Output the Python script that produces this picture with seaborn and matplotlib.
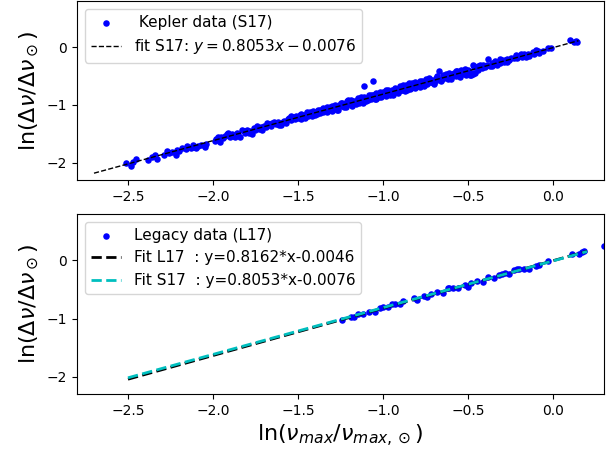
import matplotlib
matplotlib.use("Agg")
import matplotlib.pyplot as plt
import numpy as np
import pandas as pd
import seaborn as sns

# Kepler sample (S17): ln(numax/numax_sun), ln(dnu/dnu_sun)
kepler_x = [
    -2.51, -2.48, -2.47, -2.45, -2.38, -2.34, -2.33, -2.29, -2.27, -2.26,
    -2.22, -2.21, -2.18, -2.15, -2.13, -2.12, -2.10, -2.09, -2.07, -2.05,
    -2.04, -2.20, -2.16, -2.11, -2.36, -2.24,
    -1.99, -1.98, -1.97, -1.95, -1.94, -1.93, -1.92, -1.90, -1.89, -1.88,
    -1.86, -1.85, -1.84, -1.82, -1.81, -1.80, -1.78, -1.77, -1.75, -1.73,
    -1.72, -1.70, -1.69, -1.67, -1.66, -1.65, -1.63, -1.62, -1.61, -1.59,
    -1.58, -1.57, -1.55, -1.54, -1.53, -1.52, -1.51, -1.50, -1.76, -1.64,
    -1.56,
    -1.49, -1.48, -1.47, -1.46, -1.45, -1.44, -1.43, -1.42, -1.41, -1.40,
    -1.39, -1.38, -1.37, -1.36, -1.35, -1.34, -1.33, -1.32, -1.31, -1.30,
    -1.29, -1.28, -1.27, -1.26, -1.25, -1.24, -1.23, -1.22, -1.21, -1.20,
    -1.19, -1.18, -1.17, -1.16, -1.15, -1.14, -1.13, -1.12, -1.11, -1.10,
    -1.09, -1.08, -1.07, -1.06, -1.05, -1.04, -1.03, -1.02, -1.01, -1.00,
    -1.475, -1.445, -1.415, -1.385, -1.355, -1.325, -1.295, -1.265, -1.235,
    -1.205, -1.175, -1.145, -1.115, -1.085, -1.055, -1.025, -1.11, -1.06,
    -0.99, -0.98, -0.97, -0.96, -0.95, -0.94, -0.93, -0.92, -0.91, -0.90,
    -0.89, -0.88, -0.87, -0.86, -0.85, -0.84, -0.83, -0.82, -0.81, -0.80,
    -0.79, -0.78, -0.77, -0.76, -0.75, -0.74, -0.73, -0.72, -0.71, -0.70,
    -0.69, -0.68, -0.67, -0.66, -0.65, -0.64, -0.63, -0.62, -0.61, -0.60,
    -0.59, -0.58, -0.57, -0.56, -0.55, -0.54, -0.53, -0.52, -0.51, -0.50,
    -0.985, -0.955, -0.925, -0.895, -0.865, -0.835, -0.805, -0.775, -0.745,
    -0.715, -0.685, -0.655, -0.625, -0.595, -0.565, -0.535, -0.505,
    -0.49, -0.485, -0.48, -0.475, -0.47, -0.465, -0.46, -0.45, -0.44, -0.43,
    -0.42, -0.41, -0.40, -0.39, -0.38, -0.37, -0.36, -0.35, -0.34, -0.33,
    -0.32, -0.31, -0.30, -0.29, -0.28, -0.27, -0.26, -0.25, -0.23, -0.22,
    -0.21, -0.20, -0.18, -0.17, -0.15, -0.14, -0.12, -0.11, -0.09, -0.08,
    -0.06, -0.03, -0.01,
    0.10, 0.125, 0.14, 0.135,
    -1.96, -1.91, -1.87, -1.83, -1.79, -1.74, -1.71, -1.68, -1.60, -1.54,
    -1.48, -1.46, -1.43, -1.40, -1.37, -1.35, -1.33, -1.30, -1.27, -1.25,
    -1.22, -1.19, -1.16, -1.13, -1.10, -1.07, -1.04, -1.02,
    -0.98, -0.96, -0.93, -0.91, -0.88, -0.86, -0.83, -0.81, -0.78, -0.76,
    -0.73, -0.70, -0.68, -0.66, -0.63, -0.60, -0.57, -0.55, -0.52,
    -0.47, -0.44, -0.36, -0.31, -0.27, -0.19, -0.16, -0.10,
]
kepler_y = [
    -2.00, -2.05, -1.99, -1.93, -1.96, -1.87, -1.93, -1.86, -1.79, -1.83,
    -1.87, -1.78, -1.74, -1.71, -1.74, -1.69, -1.75, -1.71, -1.70, -1.72,
    -1.67, -1.80, -1.76, -1.72, -1.90, -1.82,
    -1.62, -1.59, -1.56, -1.55, -1.58, -1.53, -1.51, -1.55, -1.50, -1.53,
    -1.49, -1.52, -1.55, -1.46, -1.49, -1.44, -1.45, -1.50, -1.44, -1.41,
    -1.38, -1.36, -1.39, -1.33, -1.37, -1.31, -1.33, -1.29, -1.35, -1.30,
    -1.27, -1.32, -1.23, -1.26, -1.21, -1.24, -1.20, -1.22, -1.40, -1.30,
    -1.25,
    -1.18, -1.24, -1.17, -1.19, -1.14, -1.20, -1.15, -1.20, -1.11, -1.14,
    -1.15, -1.08, -1.14, -1.08, -1.13, -1.08, -1.03, -1.09, -1.03, -1.10,
    -1.05, -1.00, -1.06, -1.00, -1.02, -0.96, -1.04, -0.98, -0.94, -0.99,
    -0.94, -1.01, -0.93, -0.95, -0.88, -0.96, -0.90, -0.95, -0.86, -0.89,
    -0.92, -0.83, -0.89, -0.83, -0.90, -0.79, -0.85, -0.81, -0.86, -0.78,
    -1.20, -1.12, -1.17, -1.10, -1.11, -1.05, -1.03, -1.08, -0.99,
    -0.92, -0.97, -0.90, -0.97, -0.87, -0.82, -0.86, -0.68, -0.58,
    -0.78, -0.84, -0.74, -0.79, -0.75, -0.83, -0.72, -0.75, -0.77, -0.67,
    -0.74, -0.71, -0.76, -0.67, -0.62, -0.72, -0.66, -0.69, -0.61, -0.68,
    -0.63, -0.69, -0.59, -0.63, -0.59, -0.64, -0.55, -0.61, -0.57, -0.63,
    -0.53, -0.56, -0.41, -0.57, -0.49, -0.53, -0.50, -0.55, -0.45, -0.51,
    -0.47, -0.45, -0.50, -0.44, -0.46, -0.40, -0.45, -0.42, -0.48, -0.39,
    -0.79, -0.81, -0.72, -0.74, -0.65, -0.71, -0.64, -0.63, -0.55,
    -0.61, -0.54, -0.55, -0.48, -0.50, -0.42, -0.47, -0.41,
    -0.49, -0.47, -0.49, -0.44, -0.47, -0.35, -0.44, -0.35, -0.39, -0.31,
    -0.36, -0.31, -0.35, -0.30, -0.20, -0.33, -0.27, -0.29, -0.24, -0.30,
    -0.25, -0.27, -0.22, -0.26, -0.22, -0.20, -0.23, -0.19, -0.18, -0.13,
    -0.19, -0.15, -0.17, -0.12, -0.12, -0.15, -0.08, -0.12, -0.07, -0.10,
    -0.06, -0.02, -0.02,
    0.12, 0.09, 0.09, 0.10,
    -1.64, -1.49, -1.56, -1.44, -1.49, -1.37, -1.43, -1.32, -1.34, -1.20,
    -1.15, -1.23, -1.12, -1.18, -1.08, -1.06, -1.12, -1.01, -1.09, -0.97,
    -1.03, -0.91, -0.99, -0.87, -0.94, -0.82, -0.89, -0.77,
    -0.74, -0.83, -0.70, -0.80, -0.66, -0.75, -0.62, -0.71, -0.58, -0.67,
    -0.54, -0.62, -0.50, -0.59, -0.46, -0.55, -0.41, -0.51, -0.37,
    -0.30, -0.33, -0.33, -0.21, -0.25, -0.12, -0.17, -0.05,
]

# LEGACY sample (L17)
legacy_x = [
    -1.24, -1.19, -1.17, -1.15, -1.12, -1.08, -1.05, -1.02, -1.00, -0.97,
    -0.95, -0.93, -0.90, -0.88, -0.82, -0.80, -0.76, -0.74, -0.72, -0.68,
    -0.65, -0.62, -0.61, -0.59, -0.56, -0.52, -0.50, -0.48, -0.45, -0.41,
    -0.38, -0.35, -0.32, -0.30, -0.28, -0.26, -0.23, -0.21, -0.20, -0.17,
    -0.14, -0.10, -0.08, -0.03, 0.11, 0.15, 0.17, 0.18, 0.30,
]
legacy_y = [
    -1.03, -0.97, -0.98, -0.92, -0.93, -0.89, -0.88, -0.82, -0.81, -0.81,
    -0.75, -0.75, -0.75, -0.70, -0.64, -0.68, -0.61, -0.63, -0.58, -0.54,
    -0.56, -0.47, -0.48, -0.48, -0.48, -0.42, -0.46, -0.38, -0.36, -0.37,
    -0.29, -0.30, -0.25, -0.24, -0.22, -0.24, -0.16, -0.14, -0.15, -0.15,
    -0.14, -0.10, -0.08, -0.01, 0.11, 0.11, 0.14, 0.16, 0.25,
]

# Linear fit coefficients (slope, intercept)
fit_s17 = (0.8053, -0.0076)
fit_l17 = (0.8162, -0.0046)
fit_range_top = [-2.7, 0.15]
fit_range_bottom = [-2.5, 0.2]

x_ticks = [-2.5, -2.0, -1.5, -1.0, -0.5, 0.0]
y_ticks = [-2, -1, 0]


def fit_frame(coef, xr):
    xs = np.array(xr)
    return pd.DataFrame({"x": xs, "y": coef[0] * xs + coef[1]})


fig = plt.figure(figsize=(6.11, 4.54), dpi=100)
W, H = 611, 454
ax1 = fig.add_axes([77 / W, 1 - 180 / H, 527 / W, 179 / H])
ax2 = fig.add_axes([77 / W, 1 - 394 / H, 527 / W, 180 / H])

# upper panel: Kepler data and S17 relation
kep = pd.DataFrame({"x": kepler_x, "y": kepler_y})
sns.scatterplot(data=kep, x="x", y="y", ax=ax1, color="b", s=22,
                linewidth=0, label=" Kepler data (S17)")
d = fit_frame(fit_s17, fit_range_top)
sns.lineplot(data=d, x="x", y="y", ax=ax1, color="k", linestyle="--", lw=1,
             label=r"fit S17: $y = 0.8053x - 0.0076$")

# lower panel: LEGACY data with both relations
leg = pd.DataFrame({"x": legacy_x, "y": legacy_y})
sns.scatterplot(data=leg, x="x", y="y", ax=ax2, color="b", s=22,
                linewidth=0, label="Legacy data (L17)")
sns.lineplot(data=fit_frame(fit_l17, fit_range_bottom), x="x", y="y", ax=ax2,
             color="k", linestyle="--", lw=2,
             label="Fit L17  : y=0.8162*x-0.0046")
sns.lineplot(data=fit_frame(fit_s17, fit_range_bottom), x="x", y="y", ax=ax2,
             color="c", linestyle="--", lw=2,
             label="Fit S17  : y=0.8053*x-0.0076")

ylab = r"$\ln(\Delta\nu/\Delta\nu_\odot)$"
for ax in (ax1, ax2):
    ax.set_xlim(-2.8, 0.3)
    ax.set_ylim(-2.3, 0.8)
    ax.set_xticks(x_ticks)
    ax.set_yticks(y_ticks)
    ax.set_ylabel(ylab, fontsize=16)
    ax.set_xlabel("")
    ax.legend(loc="upper left", fontsize=11)

ax2.set_xlabel(r"$\ln(\nu_{max}/\nu_{max,\odot})$", fontsize=16)

fig.savefig("out.png", dpi=100)
